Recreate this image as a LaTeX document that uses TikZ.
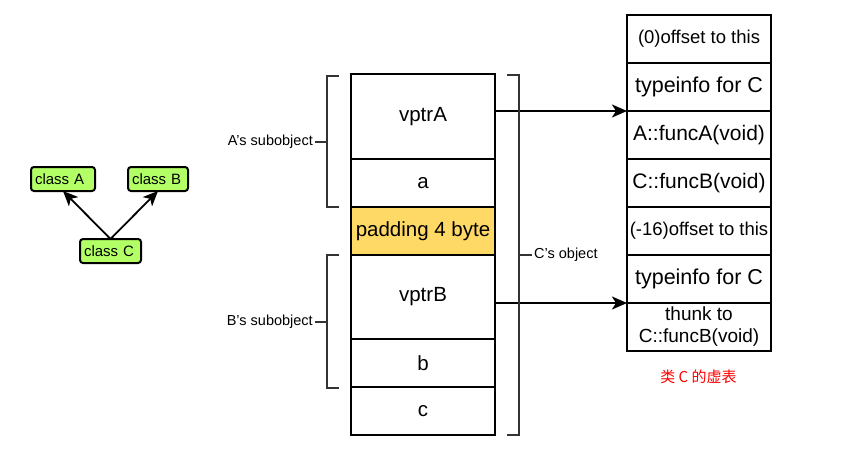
\documentclass[tikz,border=0pt]{standalone}
\usepackage{fontspec}
\setmainfont{Liberation Sans}
\newfontfamily\cjk{Noto Sans CJK SC}
\usetikzlibrary{positioning}
\usetikzlibrary{arrows.meta}

\definecolor{clsgreen}{RGB}{178,255,102}
\definecolor{padyellow}{RGB}{255,217,102}

\begin{document}
\begin{tikzpicture}[x=1pt, y=-1pt,
    cell/.style={draw, line width=2pt, minimum width=144pt, inner sep=0pt, outer sep=0pt, align=center, font=\fontsize{20.5}{23}\selectfont},
    vcell/.style={cell, minimum height=48pt},
    cls/.style={draw, line width=2pt, rounded corners=3pt, fill=clsgreen, minimum height=24pt, inner xsep=4pt, inner ysep=0pt, outer sep=0pt, align=left, font=\fontsize{15}{17}\selectfont},
    brace/.style={draw=black!80, line width=1.3pt},
    ptr/.style={-{Stealth[length=15pt, width=13pt, inset=4pt]}, line width=2pt},
    note/.style={font=\fontsize{14.5}{16}\selectfont, inner xsep=2pt, inner ysep=0pt}]
    \useasboundingbox (0,0) rectangle (842,455);

    % class hierarchy
    \node[cls, text width=56pt] (clsA) at (63,179) {class A};
    \node[cls, text width=52pt] (clsB) at (158,179) {class B};
    \node[cls, text width=53pt] (clsC) at (110.5,251) {class C};
    \draw[ptr, line width=1.8pt] (clsC.north) -- (clsA.south);
    \draw[ptr, line width=1.8pt] (clsC.north) -- (clsB.south);

    % object layout
    \node[cell, minimum height=85pt, anchor=north] (vptrA) at (423,74) {vptrA};
    \node[vcell, below=0pt of vptrA] (a) {a};
    \node[vcell, fill=padyellow, below=0pt of a] (pad) {padding 4 byte};
    \node[cell, minimum height=84pt, below=0pt of pad] (vptrB) {vptrB};
    \node[vcell, below=0pt of vptrB] (b) {b};
    \node[vcell, below=0pt of b] (c) {c};

    % vtable
    \node[vcell, anchor=north, font=\fontsize{18.5}{21}\selectfont] (off0) at (699,15) {(0)offset to this};
    \node[vcell, below=0pt of off0, font=\fontsize{21.5}{24}\selectfont] (typeA) {typeinfo for C};
    \node[vcell, below=0pt of typeA, font=\fontsize{21}{24}\selectfont] (funcA) {A::funcA(void)};
    \node[vcell, below=0pt of funcA, font=\fontsize{21}{24}\selectfont] (funcB) {C::funcB(void)};
    \node[vcell, below=0pt of funcB, font=\fontsize{18.5}{21}\selectfont] (off16) {(-16)offset to this};
    \node[vcell, below=0pt of off16, font=\fontsize{21.5}{24}\selectfont] (typeB) {typeinfo for C};
    \node[vcell, below=0pt of typeB, font=\fontsize{19}{22}\selectfont] (thunk) {thunk to\\C::funcB(void)};
    \node[text=red, font=\cjk\fontsize{15}{17}\selectfont] (title) at (698.5,377) {类 C 的虚表};

    \draw[ptr] (vptrA.east |- funcA.north) -- (funcA.north west);
    \draw[ptr] (vptrB.east |- thunk.north) -- (thunk.north west);

    % brackets
    \draw[brace] (339,76) -- (327,76) -- (327,207) -- (339,207);
    \draw[brace] (339,255) -- (327,255) -- (327,388) -- (339,388);
    \draw[brace] (507,75) -- (519,75) -- (519,435) -- (507,435);
    \coordinate (aMid) at (327,142);
    \coordinate (bMid) at (327,322);
    \coordinate (cMid) at (519,255);
    \node[note, anchor=east] (asub) at (315,142) {A's subobject};
    \node[note, anchor=east] (bsub) at (315,322) {B's subobject};
    \node[note, anchor=west] (cobj) at (532,255) {C's object};
    \draw[brace] (aMid) -- (asub.east);
    \draw[brace] (bMid) -- (bsub.east);
    \draw[brace] (cMid) -- (cobj.west);
\end{tikzpicture}
\end{document}
